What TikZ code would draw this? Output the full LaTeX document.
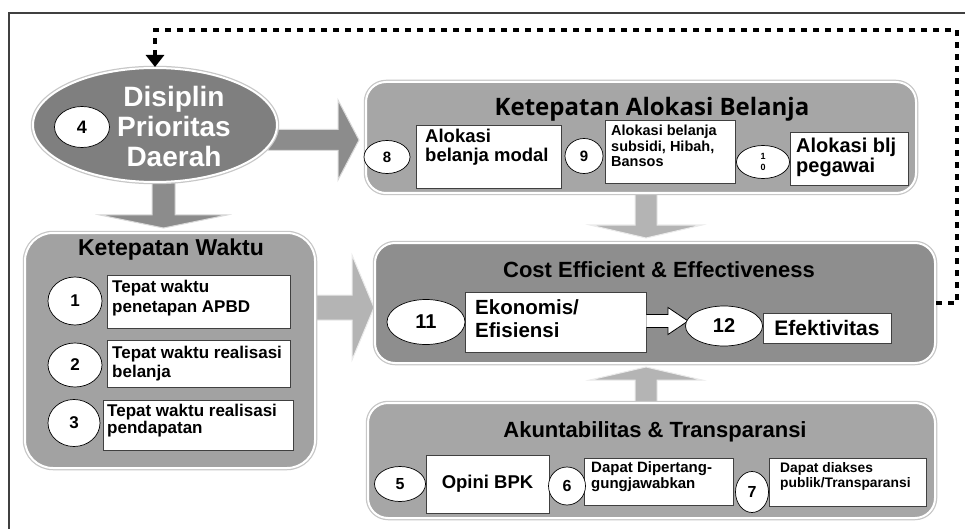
\documentclass[tikz,border=0pt]{standalone}
\usepackage{fontspec}
\setmainfont{Liberation Sans}
\newfontfamily\titlefont{Open Sans}
\usetikzlibrary{shapes.geometric,arrows.meta,calc}
\definecolor{ellgray}{HTML}{7F7F7F}
\definecolor{pnlA}{HTML}{A6A6A6}
\definecolor{pnlW}{HTML}{A2A2A2}
\definecolor{pnlC}{HTML}{8E8E8E}
\definecolor{arrD}{HTML}{8C8C8C}
\definecolor{arrL}{HTML}{B4B4B4}
\newcommand{\fsz}[2]{\fontsize{#1}{#2}\selectfont}
\begin{document}
\begin{tikzpicture}[x=1pt,y=-1pt,
  panel/.style={rectangle, rounded corners=#1, draw=white, line width=2pt,
    preaction={draw=black!22, line width=4.5pt}, inner sep=0pt},
  num/.style={ellipse, draw=black, line width=0.7pt, fill=white, inner sep=0pt, font=\bfseries},
  wbox/.style={rectangle, draw=black!75, line width=0.8pt, fill=white, inner sep=0pt},
  btxt/.style={anchor=north west, inner sep=0pt, align=left, font=\bfseries},
  ptitle/.style={inner sep=0pt, font=\bfseries\fsz{22}{26}},
  darrow/.style={fill=arrD, draw=black!15, line width=1pt},
  larrow/.style={fill=arrL, draw=black!8, line width=1pt},
  fbline/.style={line width=4.5pt, dash pattern=on 6pt off 6pt, draw=black},
]
\clip (0,0) rectangle (965,529);
\fill[white] (0,0) rectangle (965,529);
% frame
\draw[line width=1.2pt, draw=black!75] (9,540) -- (9,13) -- (980,13);

% block arrows (behind shapes)
\draw[darrow] (268,129.5) -- (338,129.5) -- (338,100) -- (359,140) -- (338,180) -- (338,150.5) -- (268,150.5) -- cycle;
\draw[darrow] (152,176) -- (175,176) -- (175,215) -- (227,215) -- (163.5,228) -- (100,215) -- (152,215) -- cycle;
\draw[larrow] (312,295) -- (352,295) -- (352,255) -- (374,307.5) -- (352,360) -- (352,320) -- (312,320) -- cycle;
\draw[larrow] (635,190) -- (657,190) -- (657,225) -- (702,225) -- (646,238) -- (590,225) -- (635,225) -- cycle;
\draw[larrow] (635,406) -- (635,380) -- (590,380) -- (646,367) -- (702,380) -- (657,380) -- (657,406) -- cycle;

% ellipse
\node[ellipse, fill=ellgray, draw=white, line width=2pt, preaction={draw=black!22, line width=4.5pt},
  minimum width=244pt, minimum height=114pt, inner sep=0pt] (ell) at (155,125) {};
\node[font=\bfseries\fsz{28}{30}, text=white, align=center, inner sep=0pt] (ellt) at (174,126) {Disiplin\\Prioritas\\Daerah};
\node[num, minimum width=55pt, minimum height=41pt, font=\bfseries\fsz{18}{20}] (n4) at (82,127) {4};

% Ketepatan Alokasi Belanja
\node[panel=20pt, fill=pnlA, minimum width=550pt, minimum height=111pt] (alok) at (641,137.5) {};
\node[inner sep=0pt, font=\titlefont\bfseries\fsz{24}{27}] (alokt) at (652,109) {Ketepatan Alokasi Belanja};
\node[wbox, minimum width=145pt, minimum height=63pt] (b8) at (488.5,156.5) {};
\node[btxt, font=\bfseries\fsz{18.5}{19}] (t8) at (425,129) {Alokasi\\belanja modal};
\node[num, minimum width=46pt, minimum height=33pt, font=\bfseries\fsz{15}{17}] (n8) at (387,157) {8};
\node[wbox, minimum width=130pt, minimum height=63pt] (b9) at (670,151.5) {};
\node[btxt, font=\bfseries\fsz{14.5}{15.5}] (t9) at (611,125) {Alokasi belanja\\subsidi, Hibah,\\Bansos};
\node[num, minimum width=38pt, minimum height=35pt, font=\bfseries\fsz{15}{17}] (n9) at (584,156) {9};
\node[wbox, minimum width=118pt, minimum height=53pt] (b10) at (849,158.5) {};
\node[btxt, font=\bfseries\fsz{20}{20}] (t10) at (796,138) {Alokasi blj\\pegawai};
\node[num, minimum width=53pt, minimum height=33pt, font=\bfseries\fsz{9}{11}, align=center] (n10) at (763,162) {1\\0};

% Ketepatan Waktu
\node[panel=28pt, fill=pnlW, minimum width=290pt, minimum height=235pt] (wak) at (170,350.5) {};
\node[ptitle, font=\bfseries\fsz{23}{26}] (wakt) at (171,250) {Ketepatan Waktu};
\node[wbox, minimum width=183pt, minimum height=53pt] (b1) at (198.5,301.5) {};
\node[btxt, font=\bfseries\fsz{17}{19.5}] (t1) at (112,280) {Tepat waktu\\penetapan APBD};
\node[num, minimum width=54pt, minimum height=48pt, font=\bfseries\fsz{17}{19}] (n1) at (75,301) {1};
\node[wbox, minimum width=183pt, minimum height=47pt] (b2) at (198.5,363.5) {};
\node[btxt, font=\bfseries\fsz{17}{19}] (t2) at (112,346) {Tepat waktu realisasi\\belanja};
\node[num, minimum width=54pt, minimum height=44pt, font=\bfseries\fsz{17}{19}] (n2) at (75,365) {2};
\node[wbox, minimum width=190pt, minimum height=50pt] (b3) at (198,425) {};
\node[btxt, font=\bfseries\fsz{17}{17.5}] (t3) at (107,403.5) {Tepat waktu realisasi\\pendapatan};
\node[num, minimum width=52pt, minimum height=47pt, font=\bfseries\fsz{17}{19}] (n3) at (74,423) {3};

% Cost Efficient & Effectiveness
\node[panel=20pt, fill=pnlC, minimum width=560pt, minimum height=120pt] (cost) at (655,303) {};
\node[ptitle] (costt) at (659,270) {Cost Efficient \& Effectiveness};
\node[wbox, minimum width=181pt, minimum height=60pt] (bE) at (555.5,322) {};
\node[btxt, font=\bfseries\fsz{20.5}{23}] (tE) at (475,299) {Ekonomis/\\Efisiensi};
\node[num, minimum width=78pt, minimum height=45pt, font=\bfseries\fsz{20}{22}] (n11) at (426,322) {11};
\draw[fill=white, draw=black, line width=0.8pt] (bE.east |- 0,314.5) -- (668,314.5) -- (668,307.5) -- (688,321) -- (668,334.5) -- (668,327.5) -- (bE.east |- 0,327.5);
\node[num, minimum width=77pt, minimum height=40pt, font=\bfseries\fsz{20}{22}] (n12) at (724,326) {12};
\node[wbox, minimum width=128pt, minimum height=30pt, font=\bfseries\fsz{21}{23}] (bF) at (827,328) {Efektivitas};

% Akuntabilitas & Transparansi
\node[panel=20pt, fill=pnlA, minimum width=567pt, minimum height=115pt] (akt) at (651.5,460.5) {};
\node[ptitle] (aktt) at (655,432) {Akuntabilitas \& Transparansi};
\node[wbox, minimum width=123pt, minimum height=58pt, font=\bfseries\fsz{18.5}{20}] (bO) at (487.5,484) {Opini BPK};
\node[num, minimum width=51pt, minimum height=35pt, font=\bfseries\fsz{16}{18}] (n5) at (400,484) {5};
\node[wbox, minimum width=149pt, minimum height=47pt] (b6) at (658.5,481.5) {};
\node[btxt, font=\bfseries\fsz{15}{16}] (t6) at (591,461) {Dapat Dipertang-\\gungjawabkan};
\node[num, minimum width=37pt, minimum height=38pt, font=\bfseries\fsz{16}{18}] (n6) at (567,486) {6};
\node[wbox, minimum width=157pt, minimum height=48pt] (b7) at (847.5,482) {};
\node[btxt, font=\bfseries\fsz{13.8}{15.5}] (t7) at (780,462) {Dapat diakses\\publik/Transparansi};
\node[num, minimum width=33pt, minimum height=41pt, font=\bfseries\fsz{16}{18}] (n7) at (752,492) {7};

% feedback dotted connector
\coordinate (fbR) at (957,30);
\draw[fbline, -{Triangle[width=18pt,length=12pt]}] (cost.east) -| (fbR) -| (ell.north);
\end{tikzpicture}
\end{document}
